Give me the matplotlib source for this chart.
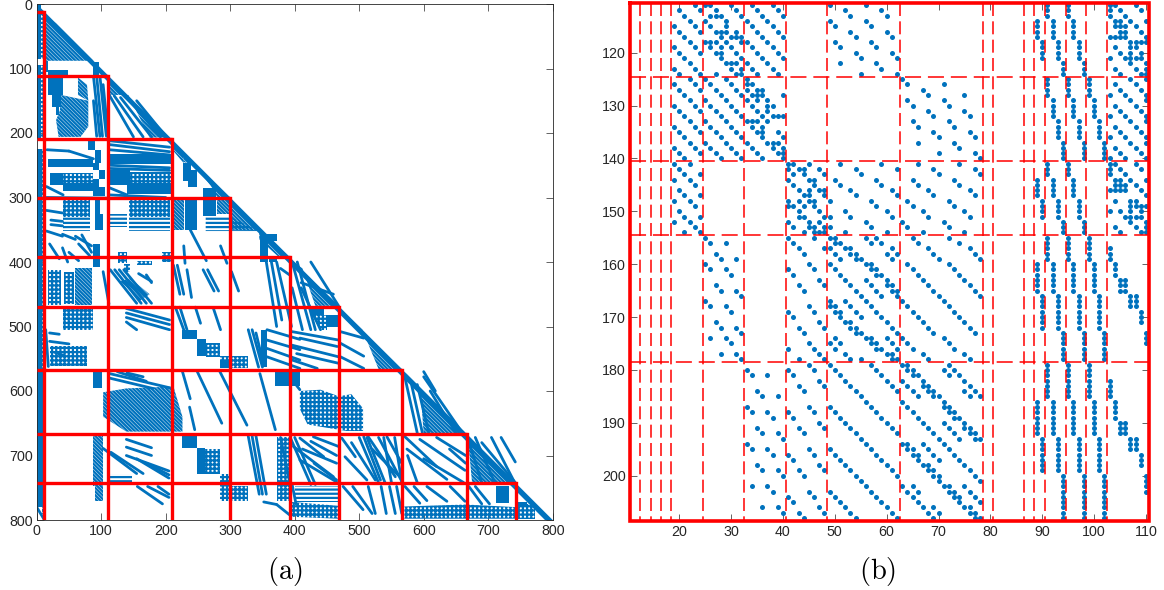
import matplotlib
matplotlib.use('Agg')
import matplotlib.pyplot as plt
from matplotlib.patches import Polygon

plt.rcParams['font.family'] = ['Liberation Sans', 'DejaVu Sans']
plt.rcParams['hatch.linewidth'] = 1.6

BLUE = '#0072BD'

# ---- panel (a) : block boundaries
red_levels = [12, 111, 209, 300, 393, 469, 567, 667, 743]

# solid areas of the sparsity pattern (x0, y0, x1, y1)
solid_blocks = [
    (0, 0, 6, 85), (0, 95, 7, 210), (0, 225, 8, 570), (0, 570, 9, 780),
    (13, 88, 18, 105), (18, 102, 49, 111), (18, 111, 41, 141), (23, 141, 38, 160), (30, 160, 35, 172),
    (88, 90, 97, 110), (79, 211, 90, 226), (90, 226, 100, 247), (88, 247, 97, 258), (97, 258, 106, 272),
    (88, 272, 97, 283), (88, 283, 106, 298), (90, 300, 98, 325), (90, 325, 103, 350), (88, 372, 98, 407),
    (20, 262, 41, 280), (41, 277, 88, 290), (113, 258, 145, 280), (140, 278, 209, 294),
    (113, 233, 209, 248), (17, 240, 88, 252), (227, 247, 240, 275), (235, 258, 248, 283),
    (230, 300, 248, 350), (258, 286, 278, 328), (346, 356, 372, 368), (346, 368, 358, 400),
    (360, 392, 372, 400), (225, 505, 248, 520), (248, 520, 262, 545), (348, 505, 357, 563),
    (284, 552, 300, 565), (88, 570, 102, 596), (370, 570, 408, 593), (226, 668, 248, 689), (248, 689, 261, 728),
    (393, 570, 408, 590), (424, 472, 445, 482), (450, 482, 468, 500), (712, 748, 733, 774), (745, 772, 760, 778),
]

# diagonal striped areas, corner lists
diag_polys = [
    [(14, 18), (30, 30), (88, 88), (14, 88)],
    [(38, 141), (80, 150), (80, 190), (68, 206), (34, 206), (30, 180), (36, 165)],
    [(64, 114), (78, 125), (80, 150), (64, 141)],
    [(113, 115), (205, 207), (175, 207), (142, 141), (113, 141)],
    [(212, 215), (228, 232), (228, 247), (212, 228)],
    [(228, 232), (300, 300), (280, 300), (270, 282), (245, 250), (228, 245)],
    [(300, 302), (350, 352), (300, 350)],
    [(345, 350), (392, 392), (375, 392), (345, 365)],
    [(280, 300), (300, 300), (300, 325), (280, 325)],
    [(212, 300), (228, 300), (228, 350), (212, 350)],
    [(395, 397), (468, 468), (432, 468), (412, 410)],
    [(470, 472), (566, 566), (530, 566), (505, 505)],
    [(570, 570), (666, 666), (600, 666), (595, 600)],
    [(668, 668), (742, 742), (675, 742)],
    [(60, 410), (85, 410), (85, 467), (60, 467)],
    [(145, 425), (175, 450), (160, 460), (130, 430)],
    [(103, 602), (139, 596), (212, 593), (226, 640), (226, 663), (139, 663), (103, 640)],
    [(88, 670), (103, 670), (103, 748), (88, 748)],
    [(91, 748), (103, 748), (103, 771), (91, 771)],
]

# dotted areas
dot_polys = [
    [(6, 20), (10, 20), (10, 85), (6, 85)],
    [(7, 95), (10, 95), (10, 210), (7, 210)],
    [(8, 225), (10, 225), (10, 790), (8, 790)],
    [(41, 262), (88, 262), (88, 277), (41, 277)],
    [(145, 260), (209, 260), (209, 278), (145, 278)],
    [(41, 301), (83, 301), (83, 330), (41, 330)],
    [(143, 301), (207, 301), (207, 330), (143, 330)],
    [(41, 472), (88, 472), (88, 505), (41, 505)],
    [(18, 412), (38, 412), (38, 467), (18, 467)],
    [(42, 415), (58, 415), (58, 465), (42, 465)],
    [(262, 525), (284, 525), (284, 548), (262, 548)],
    [(284, 545), (328, 545), (328, 565), (284, 565)],
    [(261, 690), (284, 690), (284, 728), (261, 728)],
    [(284, 728), (300, 728), (300, 771), (284, 771)],
    [(300, 748), (328, 748), (328, 771), (300, 771)],
    [(408, 600), (440, 598), (468, 608), (488, 605), (506, 627), (506, 662), (480, 662), (420, 652), (408, 628)],
    [(427, 482), (450, 482), (450, 505), (440, 505)],
    [(372, 672), (392, 672), (392, 770), (372, 770)],
    [(570, 779), (665, 776), (742, 780), (742, 798), (570, 798)],
    [(744, 775), (772, 775), (772, 798), (744, 798)],
    [(395, 772), (468, 778), (468, 798), (395, 795)],
    [(195, 385), (210, 385), (210, 400), (195, 400)],
    [(126, 385), (140, 385), (140, 402), (126, 402)],
    [(155, 398), (178, 398), (178, 405), (155, 405)],
    [(135, 403), (145, 403), (145, 415), (135, 415)],
    [(20, 530), (78, 530), (78, 562), (20, 562)],
]

# areas of close flat lines
flat_polys = [
    [(41, 330), (83, 330), (83, 352), (41, 352)],
    [(143, 330), (207, 330), (207, 352), (143, 352)],
    [(113, 326), (140, 326), (140, 345), (113, 345)],
    [(262, 330), (300, 330), (345, 352), (262, 352)],
    [(113, 728), (148, 728), (148, 742), (113, 742)],
    [(400, 748), (468, 748), (468, 772), (400, 772)],
]

# thin strands of the pattern (x0, y0, x1, y1)
strands = [
    (88, 112, 98, 205), (93, 112, 102, 205), (98, 112, 108, 205), (103, 125, 110, 195), (88, 150, 93, 205),
    (113, 142, 150, 206), (120, 142, 165, 206), (130, 145, 178, 206), (140, 145, 192, 206), (155, 150, 200, 205),
    (16, 226, 50, 228), (50, 228, 88, 240), (113, 212, 206, 222), (113, 218, 206, 229), (113, 226, 206, 234),
    (113, 250, 206, 254), (113, 255, 206, 258), (15, 283, 41, 296), (113, 285, 140, 296), (113, 296, 200, 300),
    (15, 300, 110, 301), (15, 320, 40, 324), (22, 335, 40, 337), (22, 342, 40, 344),
    (15, 352, 40, 360), (40, 357, 60, 365), (60, 360, 85, 375), (20, 372, 35, 395), (40, 378, 48, 400),
    (65, 372, 82, 390), (70, 358, 85, 385), (50, 385, 65, 398),
    (238, 350, 263, 398), (228, 375, 230, 402), (285, 375, 295, 402),
    (103, 415, 112, 465), (114, 412, 155, 464), (121, 412, 162, 464), (128, 412, 170, 464), (135, 412, 178, 464),
    (158, 418, 178, 430), (170, 420, 178, 432),
    (139, 472, 206, 490), (139, 479, 206, 497), (139, 486, 206, 505), (139, 493, 155, 505),
    (212, 405, 222, 450), (218, 405, 228, 450), (215, 470, 228, 505), (222, 470, 233, 505),
    (233, 412, 240, 455), (258, 412, 275, 445), (265, 412, 282, 445),
    (302, 415, 313, 445), (246, 470, 254, 495), (274, 472, 285, 505),
    (14, 505, 18, 562), (20, 510, 35, 512), (20, 523, 50, 527), (28, 540, 42, 545),
    (328, 505, 344, 563), (334, 505, 350, 563), (340, 510, 352, 560),
    (356, 400, 372, 500), (363, 395, 380, 490), (372, 400, 395, 500), (378, 410, 392, 420),
    (396, 400, 425, 505), (404, 400, 432, 505), (410, 432, 460, 450), (396, 440, 412, 505),
    (357, 505, 408, 520), (357, 521, 408, 536), (357, 534, 408, 552), (357, 547, 408, 565),
    (396, 508, 468, 521), (408, 518, 466, 531), (396, 529, 468, 547), (403, 542, 468, 557), (396, 552, 435, 565),
    (471, 508, 507, 518), (471, 526, 507, 546), (471, 547, 507, 565),
    (113, 573, 206, 595), (125, 570, 170, 585), (140, 572, 165, 578), (113, 580, 180, 596),
    (226, 570, 238, 612), (237, 625, 245, 660), (249, 570, 287, 650), (284, 570, 326, 653),
    (346, 573, 370, 660), (390, 575, 408, 598),
    (570, 575, 590, 665), (580, 585, 598, 665), (590, 590, 608, 665), (600, 570, 618, 600),
    (103, 689, 155, 728), (115, 695, 165, 728), (139, 675, 178, 688), (139, 687, 178, 700),
    (139, 700, 205, 724), (155, 705, 205, 735), (170, 712, 205, 730),
    (156, 748, 195, 775), (172, 748, 205, 765), (188, 748, 205, 760),
    (328, 670, 345, 760), (334, 670, 350, 760), (340, 670, 356, 760), (352, 772, 372, 776),
    (372, 776, 392, 792), (378, 672, 393, 745),
    (393, 672, 425, 745), (400, 672, 432, 745), (408, 673, 445, 702), (429, 671, 468, 686), (398, 686, 460, 733),
    (408, 707, 465, 741), (425, 678, 465, 700), (412, 690, 465, 712), (430, 712, 465, 738), (396, 745, 402, 775),
    (473, 673, 494, 702), (478, 702, 512, 738), (507, 671, 533, 738), (514, 671, 556, 733), (543, 671, 566, 712),
    (520, 690, 560, 730), (488, 680, 525, 738), (512, 672, 540, 742), (530, 672, 566, 740), (538, 672, 550, 742),
    (555, 672, 566, 742), (500, 672, 530, 742),
    (475, 748, 506, 784), (490, 748, 520, 790), (514, 748, 525, 790), (534, 748, 542, 790), (547, 748, 556, 790),
    (558, 748, 566, 790),
    (571, 671, 620, 717), (574, 690, 636, 737), (594, 675, 664, 723), (600, 705, 662, 742), (620, 672, 665, 700),
    (575, 700, 590, 742), (640, 690, 665, 712),
    (571, 748, 594, 774), (605, 748, 636, 771), (641, 748, 664, 771), (585, 748, 605, 770),
    (668, 672, 690, 742), (690, 680, 742, 742), (705, 672, 740, 740), (680, 672, 710, 742), (720, 672, 742, 710),
    (670, 748, 690, 775), (680, 748, 702, 775), (0, 780, 12, 800), (600, 578, 660, 665), (610, 600, 650, 665),
    (425, 400, 468, 468), (415, 420, 468, 470), (410, 440, 440, 505),
]

# ---- panel (b) : dashed block boundaries
dash_cols = [12.5, 14.5, 16.5, 18.5, 24.5, 32.5, 40.5, 48.5, 62.5, 78.5, 80.5, 86.5, 88.5, 90.5, 94.5, 98.5, 102.5]
dash_rows = [124.5, 140.5, 154.5, 178.5]

first_row = 111
# columns 19..78 of the non-zeros, one list per row, starting at first_row
left_cols = [
    [23, 25, 26, 30, 34, 38, 49, 56],
    [20, 24, 27, 31, 35, 39, 52, 59],
    [21, 26, 27, 28, 32, 36, 40, 53, 60],
    [22, 25, 29, 33, 37, 49, 56],
    [19, 23, 26, 29, 34, 38, 50, 57],
    [20, 24, 27, 28, 29, 31, 35, 39, 53, 60],
    [21, 28, 30, 31, 32, 36, 40, 54, 61],
    [22, 25, 26, 27, 29, 32, 33, 37, 50, 57],
    [19, 23, 26, 28, 30, 34, 38, 51, 58],
    [20, 24, 27, 28, 31, 35, 39, 54, 61],
    [21, 28, 32, 36, 40, 55, 62],
    [22, 29, 30, 31, 33, 37, 51, 58],
    [19, 23, 30, 32, 34, 38, 59],
    [20, 24, 27, 31, 32, 35, 39, 55, 62],
    [22, 25, 29, 33, 63],
    [19, 23, 26, 30, 33, 34, 64, 71],
    [20, 24, 27, 31, 33, 35, 36, 67],
    [21, 28, 32, 34, 35, 36, 40, 68, 75],
    [22, 25, 29, 33, 35, 37, 64, 71],
    [19, 23, 26, 30, 34, 37, 38, 65, 72],
    [20, 24, 27, 31, 35, 37, 68, 75],
    [21, 28, 32, 36, 38, 39, 40, 69, 76],
    [22, 25, 29, 33, 34, 35, 37, 65, 72],
    [19, 23, 26, 30, 34, 36, 66, 73],
    [20, 24, 27, 31, 35, 36, 39, 69, 76],
    [21, 28, 32, 36, 40, 70, 77],
    [22, 25, 29, 33, 37, 38, 39, 66, 73],
    [19, 23, 26, 30, 34, 38, 40, 74],
    [20, 24, 27, 31, 35, 39, 40, 70, 77],
    [21, 28, 32, 36, 40, 78],
    [19, 22, 41, 42, 45, 51, 59, 66, 74],
    [20, 41, 43, 44, 47, 54, 62, 69, 77],
    [21, 24, 42, 44, 48, 55, 70, 78],
    [19, 22, 41, 45, 46, 50, 58, 65, 73],
    [23, 42, 46, 51, 59, 66, 74],
    [20, 43, 45, 47, 48, 53, 61, 68, 76],
    [21, 24, 44, 45, 48, 54, 62, 69, 77],
    [19, 22, 41, 43, 45, 46, 49, 57, 64, 72],
    [23, 41, 42, 44, 46, 58, 65, 73],
    [20, 43, 47, 52, 60, 67, 75],
    [21, 24, 43, 44, 48, 49, 53, 61, 68, 76],
    [19, 22, 41, 45, 47, 56, 63, 71],
    [23, 42, 45, 46, 48, 49, 57, 64, 72],
    [21, 24, 44, 46, 47, 48, 52, 60, 67, 75],
    [25, 41, 46, 49, 50, 56, 58, 65, 72],
    [26, 29, 42, 50, 51, 57, 59, 66, 74],
    [43, 48, 49, 52, 53, 61, 68, 76],
    [27, 44, 50, 53, 54, 60, 62, 69, 77],
    [28, 31, 51, 54, 55, 61, 70, 78],
    [25, 45, 49, 56, 57, 64, 72],
    [26, 29, 41, 46, 50, 57, 58, 65, 73],
    [30, 42, 51, 58, 59, 66, 74],
    [47, 52, 56, 60, 67, 75],
    [27, 43, 48, 53, 57, 60, 61, 68, 76],
    [28, 31, 44, 54, 58, 61, 62, 69, 77],
    [32, 55, 59, 62, 70, 78],
    [25, 49, 52, 56, 63, 71],
    [26, 29, 45, 49, 50, 53, 57, 64, 72],
    [30, 41, 46, 50, 51, 54, 58, 65, 73],
    [42, 51, 55, 59, 66, 74],
    [27, 47, 52, 53, 60, 67, 75],
    [28, 31, 43, 48, 53, 54, 61, 68, 76],
    [32, 44, 54, 55, 62, 69, 77],
    [26, 29, 50, 56, 57, 60, 63, 71],
    [30, 45, 49, 51, 57, 58, 61, 64, 72],
    [41, 46, 50, 58, 59, 62, 65, 73],
    [28, 31, 47, 52, 60, 61, 67, 75],
    [32, 43, 48, 53, 55, 61, 62, 68, 76],
    [45, 49, 57, 63, 64, 72],
    [33, 41, 46, 50, 58, 64, 65, 71, 73],
    [34, 37, 42, 51, 59, 65, 66, 72, 74],
    [47, 52, 60, 63, 67, 75],
    [43, 48, 53, 61, 64, 67, 68, 76],
    [35, 44, 54, 62, 65, 68, 69, 75, 77],
    [36, 39, 55, 66, 69, 70, 76, 78],
    [56, 63, 71],
    [33, 45, 49, 57, 64, 71, 72],
    [34, 37, 41, 46, 50, 58, 65, 72, 73],
    [38, 42, 51, 59, 66, 73, 74],
    [47, 52, 60, 67, 71, 75],
    [35, 43, 48, 53, 61, 68, 72, 75, 76],
    [36, 39, 44, 54, 62, 69, 73, 76, 77],
    [40, 55, 70, 74, 77, 78],
    [33, 56, 63, 64, 67, 71],
    [34, 37, 45, 49, 57, 64, 65, 68, 72],
    [38, 41, 46, 50, 58, 65, 66, 69, 73],
    [42, 51, 59, 66, 70, 74],
    [35, 47, 52, 60, 67, 68, 75],
    [36, 39, 43, 48, 53, 61, 68, 69, 76],
    [40, 44, 54, 62, 69, 70, 77],
    [55, 70, 78],
    [34, 37, 56, 63, 65, 71, 72, 75],
    [38, 45, 49, 57, 64, 66, 72, 73, 76],
    [41, 46, 50, 58, 65, 73, 74, 77],
    [42, 51, 59, 66, 74, 78],
    [36, 39, 47, 52, 60, 67, 69, 75, 76],
    [40, 43, 48, 53, 61, 68, 70, 76, 77],
    [44, 54, 62, 69, 77, 78],
]

# columns 103..110 of rows 111..154
corner_cols = [
    [103, 104, 108], [103, 105, 109], [103, 106], [104, 105, 107, 110], [104, 105, 106, 108],
    [105, 106, 109], [103, 104, 105, 106, 110], [107, 108, 109, 110], [104, 107, 108], [105, 107, 109],
    [103, 106, 107, 108, 109], [107, 110], [104, 108, 110], [105, 109, 110],
    [107, 110], [104, 108], [105, 109], [103, 106, 110], [107, 110], [104, 108], [105, 109], [103, 106, 110],
    [107, 110], [104, 108], [105, 109], [103, 106, 110], [107, 110], [104, 108], [105, 109], [103, 106, 110],
    [103, 104, 108], [103, 105, 109], [103, 106], [104, 105, 107, 110], [104, 105, 106, 108],
    [103, 104, 105, 106, 109], [110], [104, 107, 108], [107, 108, 109, 110], [103, 105, 107, 109],
    [106, 107, 108, 109], [107, 110], [104, 108, 110], [105, 109, 110],
]

# vertical runs on the right of panel (b)
run_cols = [
    [91, 95], [89, 92, 96], [90, 93, 97], [94, 98], [91, 95, 99], [92, 96, 100], [93, 97, 101], [94, 98, 102],
    [91, 95], [89, 92, 96], [90, 93, 97], [94, 98], [91, 95, 99], [103], [104], [89, 92, 96, 100], [105, 106],
    [90, 93, 97, 101], [107, 108], [109], [94, 98, 102], [110], [91, 95, 99], [103], [89, 92, 96, 100], [104],
    [105, 106], [90, 93, 97, 101], [107, 108], [109], [94, 98, 102], [110],
]
run_first = [111, 114, 118, 122, 125, 129, 133, 137, 141, 144, 148, 152, 155, 157, 160, 160, 163, 166, 166, 169,
             173, 173, 179, 182, 186, 186, 190, 193, 193, 196, 200, 200]
run_last = [113, 117, 121, 124, 128, 132, 136, 140, 143, 147, 151, 154, 159, 159, 162, 165, 165, 172, 168, 171,
            178, 175, 185, 185, 192, 189, 192, 199, 195, 198, 208, 203]

fig = plt.figure(figsize=(11.64, 5.90), dpi=100)
W, H = 1164.0, 590.0


def make_axes(left, top, right, bottom):
    ax = fig.add_axes([left / W, 1 - bottom / H, (right - left) / W, (bottom - top) / H])
    ax.tick_params(direction='in', length=5, width=0.5, top=True, right=True, colors='#262626',
                   labelsize=10.3, pad=3)
    for s in ax.spines.values():
        s.set_linewidth(0.6)
        s.set_color('#262626')
    return ax


# (a)
ax = make_axes(36.7, 4, 552.7, 520)
ax.set_xlim(0, 800)
ax.set_ylim(800, 0)
ax.set_xticks(range(0, 801, 100))
ax.set_yticks(range(0, 801, 100))

for x0, y0, x1, y1 in solid_blocks:
    ax.add_patch(Polygon([(x0, y0), (x1, y0), (x1, y1), (x0, y1)], fc=BLUE, ec='none', zorder=2))
for pts in diag_polys:
    ax.add_patch(Polygon(pts, fc='none', ec=BLUE, lw=0, hatch='\\' * 9, zorder=2))
for pts in dot_polys:
    ax.add_patch(Polygon(pts, fc='none', ec=BLUE, lw=0, hatch='++++', zorder=2))
for pts in flat_polys:
    ax.add_patch(Polygon(pts, fc='none', ec=BLUE, lw=0, hatch='-' * 4, zorder=2))
for x0, y0, x1, y1 in strands:
    ax.plot([x0, x1], [y0, y1], color=BLUE, lw=2.0, solid_capstyle='round', zorder=2)
ax.add_patch(Polygon([(0, 0), (800, 800), (788, 800), (0, 10)], fc=BLUE, ec='none', zorder=2))

for lev in red_levels:
    ax.plot([0, lev], [lev, lev], color='red', lw=2.4, solid_capstyle='butt', zorder=3)
    ax.plot([lev, lev], [lev, 800], color='red', lw=2.4, solid_capstyle='projecting', zorder=3)

# (b)
ax2 = make_axes(630, 2.5, 1148.5, 520.6)
ax2.set_xlim(10.5, 110.5)
ax2.set_ylim(208.5, 110.5)
ax2.set_xticks(range(20, 111, 10))
ax2.set_yticks(range(120, 201, 10))

xs, ys = [], []
for i, cols in enumerate(left_cols):
    for c in cols:
        xs.append(c)
        ys.append(first_row + i)
for i, cols in enumerate(corner_cols):
    for c in cols:
        xs.append(c)
        ys.append(first_row + i)
for cols, a, b in zip(run_cols, run_first, run_last):
    for c in cols:
        for r in range(a, b + 1):
            xs.append(c)
            ys.append(r)
ax2.plot(xs, ys, ls='none', marker='o', ms=3.6, mew=0, color=BLUE, zorder=2)

for c in dash_cols:
    ax2.plot([c, c], [110.5, 208.5], color='red', lw=1.1, ls=(0, (8.5, 3.5)), zorder=3)
for r in dash_rows:
    ax2.plot([10.5, 110.5], [r, r], color='red', lw=1.1, ls=(0, (10.5, 4.5)), zorder=3)
ax2.plot([10.5, 110.5, 110.5, 10.5, 10.5], [110.5, 110.5, 208.5, 208.5, 110.5], color='red', lw=2.6,
         solid_joinstyle='miter', clip_on=False, zorder=4)

fig.text(285 / W, 1 - 572 / H, r'$\mathrm{(a)}$', math_fontfamily='cm', fontsize=20.5, ha='center', va='center',
         color='black')
fig.text(878 / W, 1 - 572 / H, r'$\mathrm{(b)}$', math_fontfamily='cm', fontsize=20.5, ha='center', va='center',
         color='black')

fig.savefig('out.png', dpi=100)
